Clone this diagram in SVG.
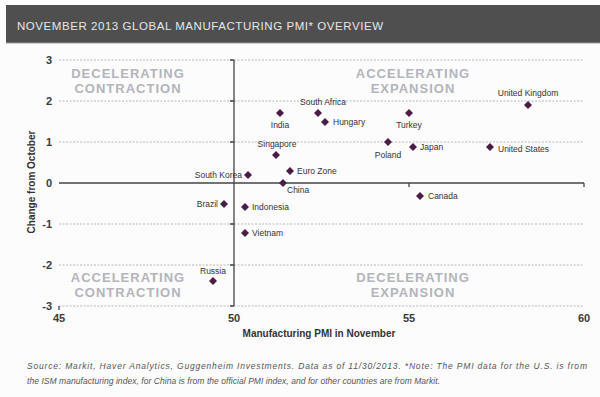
<svg xmlns="http://www.w3.org/2000/svg" width="600" height="397" viewBox="0 0 600 397">
<style>
.hdr{font-family:"Liberation Sans",Arial,sans-serif;font-size:11.5px;fill:#e6e6e6;}
.grid{stroke:#b8b8b8;stroke-width:1;stroke-dasharray:2,1.5;fill:none;}
.axis{stroke:#444;stroke-width:1.3;fill:none;}
.tick{font-family:"Liberation Sans",Arial,sans-serif;font-size:11px;font-weight:bold;fill:#3a3a3a;}
.quad{font-family:"Liberation Sans",Arial,sans-serif;font-size:13px;font-weight:bold;fill:#b4b4bc;letter-spacing:1px;text-anchor:middle;}
.lbl{font-family:"Liberation Sans",Arial,sans-serif;font-size:8.5px;fill:#333;}
.ttl{font-family:"Liberation Sans",Arial,sans-serif;font-size:10px;font-weight:bold;fill:#333;text-anchor:middle;}
.src{font-family:"Liberation Sans",Arial,sans-serif;font-size:8.5px;font-style:italic;fill:#555;}
.pt{fill:#4b1c45;}
</style>
<defs>
<path id="d" d="M0,-4 L4,0 L0,4 L-4,0 Z"/>
</defs>
<rect x="0" y="0" width="600" height="397" fill="#fbfcfb"/>
<g id="header">
<rect x="6" y="5" width="594" height="38" fill="#4e4f4e"/>
<line x1="6" y1="43" x2="600" y2="43" stroke="#9a9a9a" stroke-width="1"/>
<text class="hdr" x="17" y="30" textLength="366">NOVEMBER 2013 GLOBAL MANUFACTURING PMI* OVERVIEW</text>
</g>
<g id="grid">
<line class="grid" x1="59" y1="60" x2="584" y2="60"/>
<line class="grid" x1="59" y1="101" x2="584" y2="101"/>
<line class="grid" x1="59" y1="142" x2="584" y2="142"/>
<line class="grid" x1="59" y1="224" x2="584" y2="224"/>
<line class="grid" x1="59" y1="265" x2="584" y2="265"/>
<line class="grid" x1="59" y1="306" x2="584" y2="306"/>
</g>
<g id="axes">
<line class="axis" x1="59" y1="183" x2="584" y2="183"/>
<line class="axis" x1="234" y1="60" x2="234" y2="306"/>
<path class="axis" d="M230,60H234M230,101H234M230,142H234M230,224H234M230,265H234M230,306H234M409,183V187M584,183V187M59,306V310"/>
</g>
<g id="ticks">
<text class="tick" x="52" y="64" text-anchor="end">3</text>
<text class="tick" x="52" y="105" text-anchor="end">2</text>
<text class="tick" x="52" y="146" text-anchor="end">1</text>
<text class="tick" x="52" y="187" text-anchor="end">0</text>
<text class="tick" x="52" y="228" text-anchor="end">-1</text>
<text class="tick" x="52" y="269" text-anchor="end">-2</text>
<text class="tick" x="52" y="310" text-anchor="end">-3</text>
<text class="tick" x="59" y="322" text-anchor="middle">45</text>
<text class="tick" x="234" y="322" text-anchor="middle">50</text>
<text class="tick" x="409" y="322" text-anchor="middle">55</text>
<text class="tick" x="584" y="322" text-anchor="middle">60</text>
</g>
<g id="quadrants">
<text class="quad" x="128" y="78">DECELERATING</text>
<text class="quad" x="128" y="93">CONTRACTION</text>
<text class="quad" x="413" y="78">ACCELERATING</text>
<text class="quad" x="413" y="93">EXPANSION</text>
<text class="quad" x="128" y="282">ACCELERATING</text>
<text class="quad" x="128" y="297">CONTRACTION</text>
<text class="quad" x="413" y="282">DECELERATING</text>
<text class="quad" x="413" y="297">EXPANSION</text>
</g>
<g id="titles">
<text class="ttl" x="319" y="337">Manufacturing PMI in November</text>
<text class="ttl" transform="translate(35,182) rotate(-90)">Change from October</text>
</g>
<g id="points">
<g id="india"><use href="#d" class="pt" x="280" y="113"/><text class="lbl" x="280" y="128" text-anchor="middle">India</text></g>
<g id="singapore"><use href="#d" class="pt" x="276" y="155"/><text class="lbl" x="277" y="147" text-anchor="middle">Singapore</text></g>
<g id="eurozone"><use href="#d" class="pt" x="290" y="171"/><text class="lbl" x="297" y="174">Euro Zone</text></g>
<g id="southkorea"><use href="#d" class="pt" x="248" y="175"/><text class="lbl" x="242" y="178" text-anchor="end">South Korea</text></g>
<g id="china"><use href="#d" class="pt" x="283" y="183"/><text class="lbl" x="287" y="193">China</text></g>
<g id="brazil"><use href="#d" class="pt" x="224" y="204"/><text class="lbl" x="218" y="207" text-anchor="end">Brazil</text></g>
<g id="indonesia"><use href="#d" class="pt" x="245" y="207"/><text class="lbl" x="252" y="210">Indonesia</text></g>
<g id="vietnam"><use href="#d" class="pt" x="245" y="233"/><text class="lbl" x="252" y="236">Vietnam</text></g>
<g id="russia"><use href="#d" class="pt" x="213" y="281"/><text class="lbl" x="213" y="274" text-anchor="middle">Russia</text></g>
<g id="southafrica"><use href="#d" class="pt" x="318" y="113"/><text class="lbl" x="323" y="105" text-anchor="middle">South Africa</text></g>
<g id="hungary"><use href="#d" class="pt" x="325" y="122"/><text class="lbl" x="333" y="125">Hungary</text></g>
<g id="turkey"><use href="#d" class="pt" x="409" y="113"/><text class="lbl" x="409" y="128" text-anchor="middle">Turkey</text></g>
<g id="poland"><use href="#d" class="pt" x="388" y="142"/><text class="lbl" x="388" y="158" text-anchor="middle">Poland</text></g>
<g id="japan"><use href="#d" class="pt" x="413" y="147"/><text class="lbl" x="420" y="150">Japan</text></g>
<g id="unitedstates"><use href="#d" class="pt" x="490" y="147"/><text class="lbl" x="498" y="152">United States</text></g>
<g id="unitedkingdom"><use href="#d" class="pt" x="528" y="105"/><text class="lbl" x="528" y="96" text-anchor="middle">United Kingdom</text></g>
<g id="canada"><use href="#d" class="pt" x="420" y="196"/><text class="lbl" x="428" y="199">Canada</text></g>
</g>
<g id="source">
<text class="src" x="27" y="369" textLength="560">Source: Markit, Haver Analytics, Guggenheim Investments. Data as of 11/30/2013. *Note: The PMI data for the U.S. is from</text>
<text class="src" x="27" y="384" textLength="413">the ISM manufacturing index, for China is from the official PMI index, and for other countries are from Markit.</text>
</g>
</svg>
